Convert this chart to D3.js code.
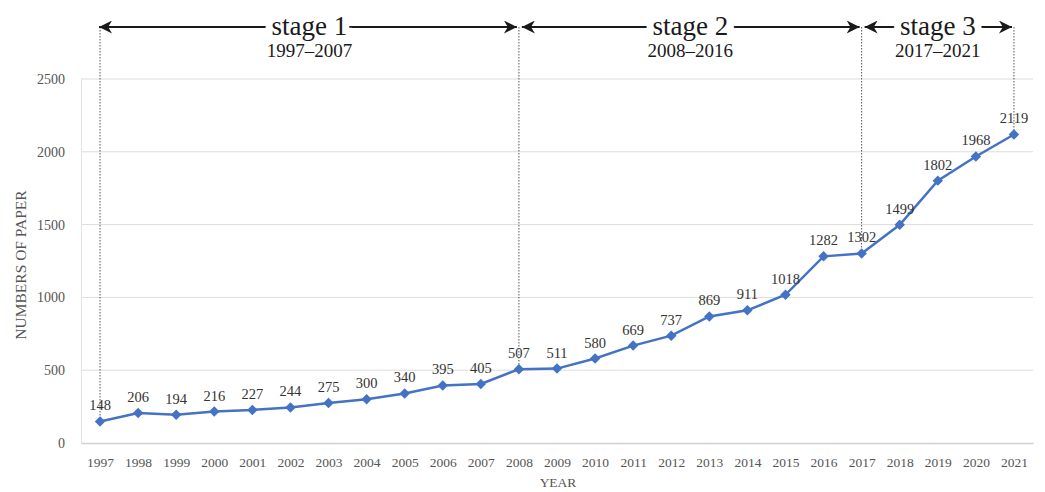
<!DOCTYPE html>
<html>
<head>
<meta charset="utf-8">
<script src="https://cdn.jsdelivr.net/npm/d3@7"></script>
<style>
  body { margin: 0; background: #fff; }
  text { font-family: "Liberation Serif", "Times New Roman", serif; }
</style>
</head>
<body>
<svg id="chart" width="1045" height="492"></svg>
<script>
// data
const years = ['1997', '1998', '1999', '2000', '2001', '2002', '2003', '2004', '2005', '2006', '2007', '2008',
    '2009', '2010', '2011', '2012', '2013', '2014', '2015', '2016', '2017', '2018', '2019', '2020', '2021'];
const papers = [148, 206, 194, 216, 227, 244, 275, 300, 340, 395, 405, 507,
    511, 580, 669, 737, 869, 911, 1018, 1282, 1302, 1499, 1802, 1968, 2119];
const yTicks = [0, 500, 1000, 1500, 2000, 2500];
const stageNames = ['stage 1', 'stage 2', 'stage 3'];
const stageRanges = ['1997–2007', '2008–2016', '2017–2021'];
const stageStart = ['1997', '2008', '2017'];
const stageEnd = ['2008', '2017', '2021'];
const markerYears = ['1997', '2008', '2017', '2021'];

const svg = d3.select('#chart');

// plot area
const plotLeft = 81, plotRight = 1033, plotTop = 79, plotBottom = 443;

const x = d3.scalePoint()
    .domain(years)
    .range([plotLeft, plotRight])
    .padding(0.5);

const y = d3.scaleLinear()
    .domain([0, 2500])
    .range([plotBottom, plotTop]);

const lineColor = '#4472c4';

// gridlines
svg.append('g')
    .selectAll('line')
    .data(yTicks.filter(d => d > 0))
    .enter().append('line')
    .attr('x1', plotLeft)
    .attr('x2', plotRight)
    .attr('y1', d => y(d))
    .attr('y2', d => y(d))
    .attr('stroke', '#dcdcdc')
    .attr('stroke-width', 1);

// y axis (labels only)
const yAxis = svg.append('g')
    .attr('transform', 'translate(' + plotLeft + ',0)')
    .call(d3.axisLeft(y).tickValues(yTicks).tickFormat(d3.format('d')).tickSize(0).tickPadding(16));
yAxis.select('.domain').attr('stroke', '#e4e4e4');
yAxis.selectAll('text')
    .attr('font-size', 14)
    .attr('fill', '#555')
    .style('font-family', '"Liberation Serif", serif');

// x axis
const xAxis = svg.append('g')
    .attr('transform', 'translate(0,' + plotBottom + ')')
    .call(d3.axisBottom(x).tickSize(0).tickPadding(14));
xAxis.select('.domain').attr('stroke', '#d0d0d0').attr('stroke-width', 1.5);
xAxis.selectAll('text')
    .attr('font-size', 13.5)
    .attr('fill', '#555')
    .style('font-family', '"Liberation Serif", serif');

// axis titles
svg.append('text')
    .attr('transform', 'translate(26,' + 265 + ') rotate(-90)')
    .attr('text-anchor', 'middle')
    .attr('font-size', 15.5)
    .attr('fill', '#555')
    .text('NUMBERS OF PAPER');

svg.append('text')
    .attr('x', 558)
    .attr('y', 487)
    .attr('text-anchor', 'middle')
    .attr('font-size', 13.5)
    .attr('fill', '#555')
    .text('YEAR');

// dotted stage boundaries, from arrow row down to the data point
const arrowY = 27;
svg.append('g')
    .selectAll('line')
    .data(markerYears)
    .enter().append('line')
    .attr('x1', d => x(d))
    .attr('x2', d => x(d))
    .attr('y1', arrowY)
    .attr('y2', d => y(papers[years.indexOf(d)]) - 4)
    .attr('stroke', '#555')
    .attr('stroke-width', 1)
    .attr('stroke-dasharray', '1.5,1.5');

// arrow heads
const defs = svg.append('defs');
defs.append('marker')
    .attr('id', 'head')
    .attr('viewBox', '0 0 10 10')
    .attr('refX', 10)
    .attr('refY', 5)
    .attr('markerUnits', 'userSpaceOnUse')
    .attr('markerWidth', 16)
    .attr('markerHeight', 13)
    .attr('orient', 'auto-start-reverse')
    .append('path')
    .attr('d', 'M0,0 L10,5 L0,10 L3,5 Z')
    .attr('fill', '#1a1a1a');

const stages = svg.append('g');
stageNames.forEach((name, i) => {
    const x0 = x(stageStart[i]) - 1;
    const x1 = x(stageEnd[i]) - 2;
    const mid = (x(stageStart[i]) + x(stageEnd[i])) / 2;

    stages.append('line')
        .attr('x1', x0 + (i === 0 ? 0 : 4))
        .attr('x2', x1)
        .attr('y1', arrowY)
        .attr('y2', arrowY)
        .attr('stroke', '#1a1a1a')
        .attr('stroke-width', 2)
        .attr('marker-start', 'url(#head)')
        .attr('marker-end', 'url(#head)');

    stages.append('text')
        .attr('x', mid)
        .attr('y', 35)
        .attr('text-anchor', 'middle')
        .attr('font-size', 27)
        .attr('fill', '#1a1a1a')
        .attr('stroke', '#fff')
        .attr('stroke-width', 14)
        .attr('paint-order', 'stroke')
        .text(name);

    stages.append('text')
        .attr('x', mid)
        .attr('y', 57)
        .attr('text-anchor', 'middle')
        .attr('font-size', 19)
        .attr('fill', '#1a1a1a')
        .text(stageRanges[i]);
});

// series line
const line = d3.line()
    .x((d, i) => x(years[i]))
    .y(d => y(d));

svg.append('path')
    .datum(papers)
    .attr('d', line)
    .attr('fill', 'none')
    .attr('stroke', lineColor)
    .attr('stroke-width', 2.5);

// diamond markers
svg.append('g')
    .selectAll('path')
    .data(papers)
    .enter().append('path')
    .attr('transform', (d, i) => 'translate(' + x(years[i]) + ',' + y(d) + ')')
    .attr('d', d3.symbol().type(d3.symbolDiamond2).size(70))
    .attr('fill', lineColor);

// data labels
svg.append('g')
    .selectAll('text')
    .data(papers)
    .enter().append('text')
    .attr('x', (d, i) => x(years[i]))
    .attr('y', d => y(d) - 11)
    .attr('text-anchor', 'middle')
    .attr('font-size', 14.5)
    .attr('fill', '#333')
    .text(d => d);
</script>
</body>
</html>
